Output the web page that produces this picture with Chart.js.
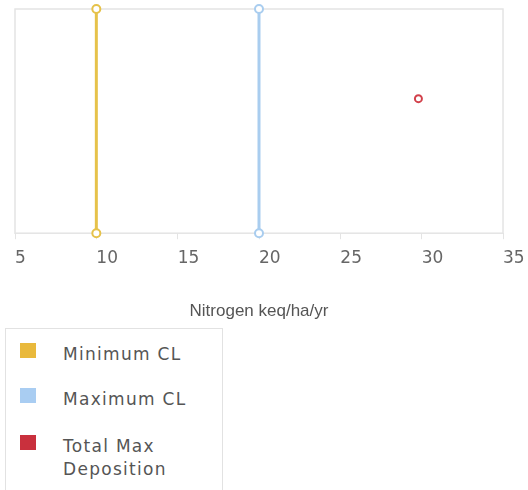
<!DOCTYPE html>
<html>
<head>
<meta charset="utf-8">
<script src="https://cdn.jsdelivr.net/npm/chart.js@4"></script>
<style>
  body { margin: 0; background: #fff; width: 528px; height: 490px; overflow: hidden; position: relative; }
  #wrap { position: absolute; left: 0; top: 0; width: 528px; height: 326px; }
  #legend { position: absolute; left: 5px; top: 328px; width: 216px; height: 180px; border: 1px solid #e2e2e2; font-family: 'DejaVu Sans', sans-serif; font-size: 17px; letter-spacing: 1.3px; color: #555; }
  .item { position: absolute; left: 0; }
  .sw { position: absolute; left: 14px; width: 16px; height: 15px; }
  .txt { position: absolute; left: 57px; width: 150px; line-height: 23px; }
</style>
</head>
<body>
<div id="wrap"><canvas id="chart"></canvas></div>
<div id="legend"></div>
<script>
// values
const seriesNames = ['Minimum CL', 'Maximum CL', 'Total Max Deposition'];
const minCL = [10, 10];
const maxCL = [20, 20];
const lineY = [0, 1];
const totalMaxDep = [29.8];
const totalMaxDepY = [0.6];
const xTicks = [5, 10, 15, 20, 25, 30, 35];

const colors = ['#e6c24a', '#a9cdef', '#d2414b'];
const swatchColors = ['#e9b93c', '#a9cdf2', '#c9303d'];

function pts(xs, ys) {
    return xs.map((x, i) => ({ x: x, y: ys[i] }));
}

// light grey box round the plot area
const boxPlugin = {
    id: 'box',
    beforeDatasetsDraw(chart) {
        const a = chart.chartArea, c = chart.ctx;
        c.save();
        c.strokeStyle = '#e4e4e4';
        c.lineWidth = 1.5;
        c.strokeRect(a.left, a.top, a.right - a.left, a.bottom - a.top);
        c.restore();
    }
};

const ctx = document.getElementById('chart').getContext('2d');
const chart = new Chart(ctx, {
    type: 'scatter',
    data: {
        datasets: [
            {
                label: seriesNames[0],
                data: pts(minCL, lineY),
                showLine: true,
                borderColor: colors[0],
                backgroundColor: '#fff',
                borderWidth: 3,
                pointRadius: 4,
                pointBorderWidth: 2,
                clip: false,
            },
            {
                label: seriesNames[1],
                data: pts(maxCL, lineY),
                showLine: true,
                borderColor: colors[1],
                backgroundColor: '#fff',
                borderWidth: 3,
                pointRadius: 4,
                pointBorderWidth: 2,
                clip: false,
            },
            {
                label: seriesNames[2],
                data: pts(totalMaxDep, totalMaxDepY),
                borderColor: colors[2],
                backgroundColor: '#fff',
                pointRadius: 3.5,
                pointBorderWidth: 2,
                clip: false,
            }
        ],
    },
    options: {
        responsive: true,
        maintainAspectRatio: false,
        animation: false,
        layout: { padding: { left: 15, right: 25, top: 9, bottom: 4 } },
        plugins: {
            legend: { display: false },
            tooltip: { enabled: false },
        },
        scales: {
            x: {
                type: 'linear',
                min: xTicks[0],
                max: xTicks[xTicks.length - 1],
                afterBuildTicks: (s) => { s.ticks = xTicks.map(v => ({ value: v })); },
                afterFit: (s) => { s.paddingLeft = 0; s.paddingRight = 0; },
                grid: { drawOnChartArea: false, drawTicks: true, tickLength: 6, color: '#e4e4e4' },
                border: { display: false },
                ticks: {
                    align: 'start',
                    padding: 9,
                    color: '#666',
                    font: { family: 'DejaVu Sans', size: 17 },
                },
                title: {
                    display: true,
                    text: 'Nitrogen keq/ha/yr',
                    color: '#555',
                    font: { family: 'Liberation Sans', size: 17 },
                    padding: { top: 24, bottom: 0 },
                },
            },
            y: {
                display: false,
                min: 0,
                max: 1,
            },
        },
    },
    plugins: [boxPlugin],
});

// legend below the chart, built from the chart's datasets
const legend = document.getElementById('legend');
const itemTops = [11, 56, 103];
chart.data.datasets.forEach((ds, i) => {
    const item = document.createElement('div');
    item.className = 'item';
    item.style.top = itemTops[i] + 'px';
    item.innerHTML = '<div class="sw" style="top:3px;background:' + swatchColors[i] + '"></div>' +
        '<div class="txt" style="top:3px">' + ds.label + '</div>';
    legend.appendChild(item);
});
</script>
</body>
</html>
